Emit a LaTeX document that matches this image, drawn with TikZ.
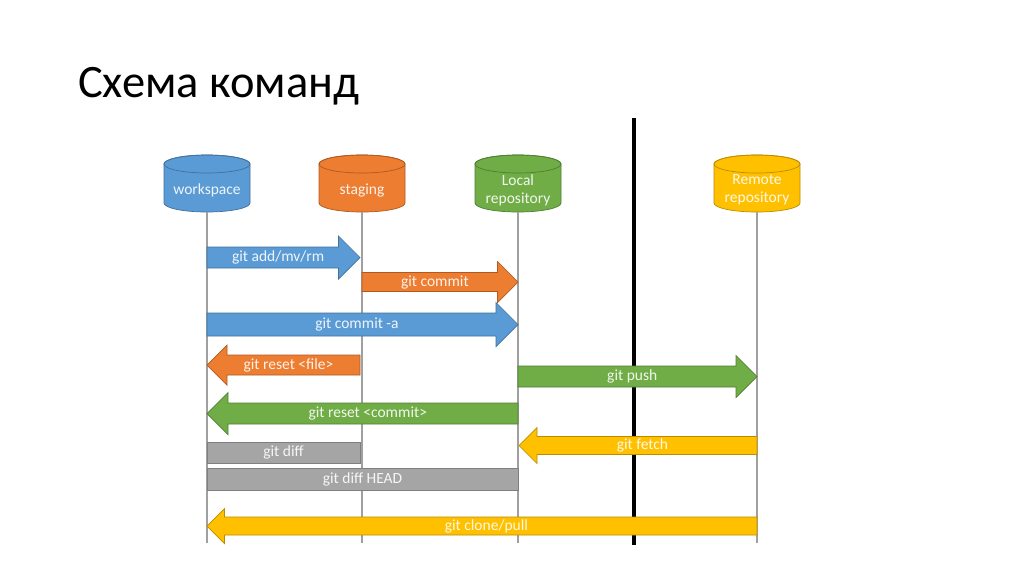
\documentclass[tikz,border=0pt]{standalone}
\usepackage{fontspec}
\setmainfont{Carlito}
\definecolor{cBlue}{HTML}{5B9BD5}
\definecolor{cBlueD}{HTML}{41719C}
\definecolor{cOrange}{HTML}{ED7D31}
\definecolor{cOrangeD}{HTML}{AE5A21}
\definecolor{cGreen}{HTML}{70AD47}
\definecolor{cGreenD}{HTML}{507E32}
\definecolor{cGold}{HTML}{FFC000}
\definecolor{cGoldD}{HTML}{BC8C00}
\definecolor{cGray}{HTML}{A5A5A5}
\definecolor{cGrayD}{HTML}{7F7F7F}
\definecolor{cLine}{HTML}{A0A0A0}
\tikzset{
  blueshape/.style={fill=cBlue, draw=cBlueD, line width=0.7pt},
  orangeshape/.style={fill=cOrange, draw=cOrangeD, line width=0.7pt},
  greenshape/.style={fill=cGreen, draw=cGreenD, line width=0.7pt},
  goldshape/.style={fill=cGold, draw=cGoldD, line width=0.7pt},
  grayshape/.style={fill=cGray, draw=cGrayD, line width=0.7pt},
  albl/.style={text=white, text opacity=0.9, inner sep=0pt, font=\fontsize{15.5}{18}\selectfont, align=center},
  vline/.style={draw=cLine, line width=2.5pt},
}
% cylinder: #1 name, #2 cx, #3 top, #4 bottom, #5 style, #6 label
\newcommand\gcyl[6]{%
  \filldraw[#5] (#2-43,-#3-9) -- (#2-43,-#4+9)
    arc[start angle=180,end angle=360,x radius=43,y radius=9]
    -- (#2+43,-#3-9)
    arc[start angle=0,end angle=180,x radius=43,y radius=9] -- cycle;
  \draw[#5, fill=none] (#2,-#3-9) ellipse[x radius=43,y radius=9];
  \node[albl] (#1lbl) at (#2,-190) {#6};
  \coordinate (#1) at (#2,-#4);
}
% arrow: #1 name, #2 tail x, #3 tip x, #4 y, #5 shaft half, #6 head half, #7 style, #8 label
\newcommand\garr[8]{%
  \pgfmathsetmacro\garDir{(#3>#2)?1:-1}%
  \pgfmathsetmacro\garHx{#3-(\garDir)*#6}%
  \pgfmathsetmacro\garLx{(#2+#3-(\garDir)*#6/2)/2}%
  \filldraw[#7] (#2,-#4+#5) -- (\garHx,-#4+#5) -- (\garHx,-#4+#6) -- (#3,-#4)
    -- (\garHx,-#4-#6) -- (\garHx,-#4-#5) -- (#2,-#4-#5) -- cycle;
  \node[albl] (#1) at (\garLx,-#4) {#8};
}
\begin{document}
\begin{tikzpicture}[x=1pt,y=1pt]
\useasboundingbox (0,0) rectangle (1024,-574);
\fill[white] (0,0) rectangle (1024,-574);

\node[anchor=base west, inner sep=0pt, font=\fontsize{46.5}{52}\selectfont] (title) at (78,-97.7) {Схема команд};

% cylinders
\gcyl{ws}{207}{155}{212}{blueshape}{workspace}
\gcyl{st}{362}{155}{212}{orangeshape}{staging}
\gcyl{lr}{518}{155}{212}{greenshape}{Local\\repository}
\gcyl{rr}{757}{155}{212}{goldshape}{Remote\\repository}

% lifelines
\coordinate (bottom) at (0,-543);
\draw[vline] (ws) -- (ws|-bottom);
\draw[vline] (st) -- (st|-bottom);
\draw[vline] (lr) -- (lr|-bottom);
\draw[vline] (rr) -- (rr|-bottom);

% boundary line (behind the arrows)
\coordinate (bt) at (634,-118);
\coordinate (bb) at (634,-545);
\draw[line width=4pt, black] (bt) -- (bb);

% arrows
\garr{add}{207}{360}{257.5}{10.5}{21.5}{blueshape}{git add/mv/rm}
\garr{commit}{362}{518}{282}{9.5}{20.5}{orangeshape}{git commit}
\garr{commita}{207}{518}{324.5}{11.5}{22}{blueshape}{git commit -a}
\garr{resetf}{360}{207}{365}{10}{20}{orangeshape}{git reset <file>}
\garr{push}{518}{757}{376.5}{10.5}{21}{greenshape}{git push}
\garr{resetc}{518}{207}{413.5}{10.5}{21}{greenshape}{git reset <commit>}
\garr{fetch}{757}{519}{445.5}{9}{18}{goldshape}{git fetch}
\garr{clone}{757}{207}{526}{9}{17.5}{goldshape}{git clone/pull}

% gray bars
\filldraw[grayshape] (207,-442) rectangle (360,-463);
\node[albl] (diff) at (283.5,-452.5) {git diff};
\filldraw[grayshape] (207,-468.5) rectangle (518,-490);
\node[albl] (diffh) at (362.5,-479.5) {git diff HEAD};
\end{tikzpicture}
\end{document}
